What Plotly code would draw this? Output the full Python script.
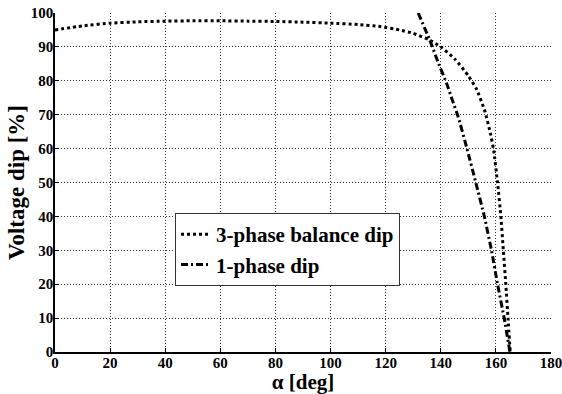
import plotly.graph_objects as go

# 3-phase balance dip
alpha_3ph = [0, 10, 20, 30, 40, 50, 60, 70, 80, 90, 100, 110, 118, 125, 130, 136, 140, 145,
             150, 153, 156, 158, 159.2, 160.6, 161.8, 162.7, 163.6, 164.4, 165.2]
dip_3ph = [95, 96.2, 97, 97.4, 97.6, 97.7, 97.7, 97.6, 97.5, 97.3, 97, 96.6, 96, 95, 94, 92, 90, 86.5,
           81.5, 77.5, 71, 64.5, 59.5, 50, 40, 30, 20, 10, 0]

# 1-phase dip
alpha_1ph = [131.8, 136, 139, 142.1, 144.2, 146.3, 149.5, 152.7, 155.8, 158.4, 160.6, 163, 165.1]
dip_1ph = [100, 92, 85.5, 79.3, 74.3, 69.4, 60, 50, 40, 30, 20, 10, 0]

x_ticks = [0, 20, 40, 60, 80, 100, 120, 140, 160, 180]
y_ticks = [0, 10, 20, 30, 40, 50, 60, 70, 80, 90, 100]

FONT = "Liberation Serif"

fig = go.Figure()
fig.add_trace(go.Scatter(x=alpha_3ph, y=dip_3ph, mode="lines", name="3-phase balance dip",
                         line=dict(color="black", width=3, dash="dot", shape="spline", smoothing=0.5)))
fig.add_trace(go.Scatter(x=alpha_1ph, y=dip_1ph, mode="lines", name="1-phase dip",
                         line=dict(color="black", width=3, dash="7px,3px,2px,3px", shape="spline", smoothing=0.5)))

axis_common = dict(
    showgrid=True, gridcolor="#333", griddash="1px,2px", gridwidth=1,
    showline=True, linecolor="black", linewidth=1.5,
    ticks="inside", ticklen=4, tickcolor="black",
    zeroline=False, automargin=False, ticklabeloverflow="allow",
    tickfont=dict(family=FONT, size=15, color="black", weight="bold"),
)

fig.update_xaxes(range=[0, 180], tickvals=x_ticks, **axis_common, ticklabelstandoff=-4,
                 title=dict(text="α [deg]", font=dict(family=FONT, size=21, color="black", weight="bold"),
                            standoff=0))
fig.update_yaxes(range=[0, 100], tickvals=y_ticks, **axis_common, ticklabelstandoff=-3,
                 title=dict(text="Voltage dip [%]", font=dict(family=FONT, size=23, color="black", weight="bold"),
                            standoff=0))

fig.update_layout(
    width=562, height=394,
    margin=dict(l=55, r=11, t=13, b=42),
    paper_bgcolor="white", plot_bgcolor="white",
    showlegend=True,
    legend=dict(x=0.242, y=0.302, xanchor="left", yanchor="middle",
                bgcolor="white", bordercolor="#333", borderwidth=1,
                font=dict(family=FONT, size=21, color="black", weight="bold"),
                tracegroupgap=0, itemwidth=30),
)

# remove the browser's default body margin so the figure fills the window exactly
fig.write_html("out.html", config={"displayModeBar": False},
               post_script="document.body.style.margin='0';")
